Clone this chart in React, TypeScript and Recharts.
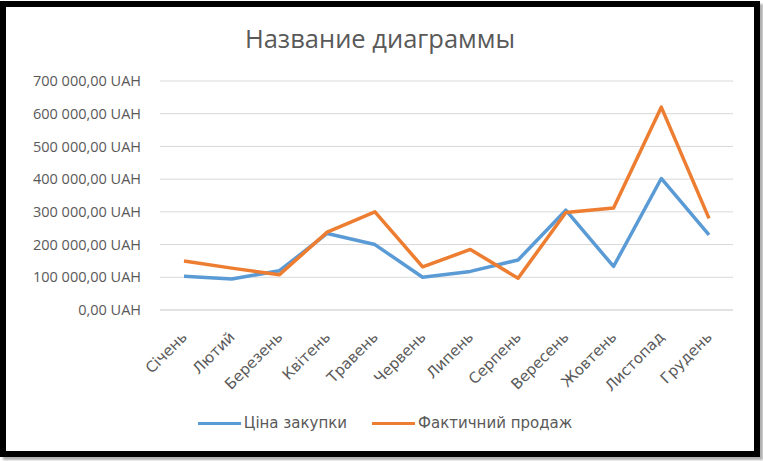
import { LineChart, Line, XAxis, YAxis, CartesianGrid, Legend } from 'recharts';

const months = [
  'Січень',
  'Лютий',
  'Березень',
  'Квітень',
  'Травень',
  'Червень',
  'Липень',
  'Серпень',
  'Вересень',
  'Жовтень',
  'Листопад',
  'Грудень',
];
const purchasePrice = [103000, 95000, 120000, 234000, 200000, 100000, 118000, 153000, 305000, 133000, 402000, 230000];
const actualSales = [150000, 128000, 108000, 238000, 300000, 132000, 185000, 97000, 298000, 312000, 620000, 280000];
const yTicks = [0, 100000, 200000, 300000, 400000, 500000, 600000, 700000];
const legendOrder = ['Ціна закупки', 'Фактичний продаж'];

const data = months.map((m, i) => ({
  month: m,
  purchase: purchasePrice[i],
  sales: actualSales[i],
}));

const FONT = '"Open Sans", "Noto Sans", sans-serif';
const WIDE_FONT = '"DejaVu Sans", "Open Sans", sans-serif';
const TEXT = '#595959';

function formatUah(v: number) {
  const s = Math.round(v)
    .toString()
    .replace(/\B(?=(\d{3})+(?!\d))/g, ' ');
  return `${s},00 UAH`;
}

function MonthTick({ x, y, payload }: any) {
  return (
    <g transform={`translate(${x + 4},${y + 20})`}>
      <text transform="rotate(-45)" textAnchor="end" fill={TEXT} fontSize={15} fontFamily={WIDE_FONT}>
        {payload.value}
      </text>
    </g>
  );
}

function LegendContent({ payload }: any) {
  const items = [...(payload || [])].sort(
    (a: any, b: any) => legendOrder.indexOf(a.value) - legendOrder.indexOf(b.value)
  );
  return (
    <div
      style={{
        display: 'flex',
        justifyContent: 'center',
        gap: 25,
        paddingLeft: 10,
        fontFamily: WIDE_FONT,
        fontSize: 15,
        color: TEXT,
      }}
    >
      {items.map((p: any) => (
        <div key={p.value} style={{ display: 'flex', alignItems: 'center' }}>
          <span style={{ display: 'inline-block', width: 43, height: 3, background: p.color, marginRight: 3 }} />
          <span>{p.value}</span>
        </div>
      ))}
    </div>
  );
}

export default function App() {
  return (
    <div
      style={{
        position: 'absolute',
        left: 0,
        top: 1,
        width: 760,
        height: 456,
        border: '6px solid #000',
        boxSizing: 'border-box',
        background: '#fff',
        boxShadow: '3px 3px 2px #b0b0b0',
      }}
    >
      <div
        style={{
          position: 'absolute',
          top: 14,
          left: 0,
          width: 748,
          textAlign: 'center',
          fontFamily: FONT,
          fontSize: 25.5,
          color: TEXT,
        }}
      >
        Название диаграммы
      </div>
      <LineChart width={748} height={444} data={data} margin={{ top: 74, right: 21, left: 0, bottom: 0 }}>
        <CartesianGrid vertical={false} stroke="#d9d9d9" />
        <XAxis
          dataKey="month"
          interval={0}
          height={141}
          padding={{ left: 24, right: 24 }}
          axisLine={{ stroke: '#d9d9d9' }}
          tickLine={false}
          tick={<MonthTick />}
        />
        <YAxis
          width={154}
          domain={[0, 700000]}
          ticks={yTicks}
          axisLine={false}
          tickLine={false}
          tickMargin={13}
          tickFormatter={formatUah}
          tick={{ fill: TEXT, fontSize: 14.5, fontFamily: FONT }}
        />
        <Legend
          layout="horizontal"
          verticalAlign="middle"
          wrapperStyle={{ top: 407, left: 0, width: 748 }}
          content={<LegendContent />}
        />
        <Line
          type="linear"
          dataKey="purchase"
          name="Ціна закупки"
          stroke="#5b9bd5"
          strokeWidth={3.5}
          strokeLinejoin="round"
          dot={false}
          isAnimationActive={false}
        />
        <Line
          type="linear"
          dataKey="sales"
          name="Фактичний продаж"
          stroke="#ed7d31"
          strokeWidth={3.5}
          strokeLinejoin="round"
          dot={false}
          isAnimationActive={false}
        />
      </LineChart>
    </div>
  );
}
